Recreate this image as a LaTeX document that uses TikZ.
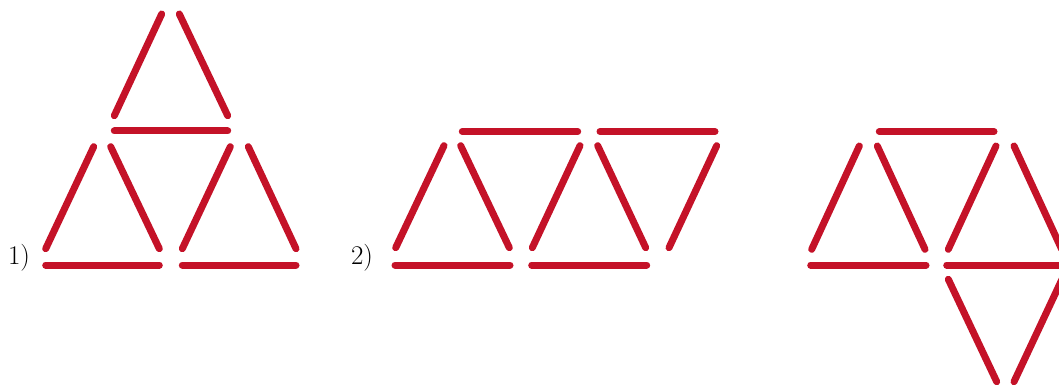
\documentclass[tikz,border=0pt]{standalone}
\definecolor{match}{RGB}{196,18,40}
\begin{document}
\begin{tikzpicture}[x=1pt,y=-1pt,
  stick/.style={draw=match,line width=7pt,line cap=round},
  lbl/.style={anchor=base,inner sep=0pt,font=\fontsize{27}{30}\selectfont}]
\useasboundingbox (0,0) rectangle (1059,387);
\clip (0,0) rectangle (1059,387);
% figure 1
\node[lbl] (l1) at (19,265) {1)};
\coordinate (a1) at (114.3,115.7); \coordinate (a2) at (161.7,14);
\coordinate (a3) at (179.3,14); \coordinate (a4) at (227.7,115.7);
\draw[stick] (a1) -- (a2); \draw[stick] (a3) -- (a4);
\coordinate (h1) at (114.3,131); \coordinate (h2) at (227.7,131);
\draw[stick] (h1) -- (h2);
\coordinate (b1) at (45.7,248.7); \coordinate (b2) at (93.7,146.7);
\coordinate (b3) at (110.7,146.7); \coordinate (b4) at (159.3,248.7);
\coordinate (b5) at (182.3,248.7); \coordinate (b6) at (230.3,146.7);
\coordinate (b7) at (248.3,146.7); \coordinate (b8) at (296,248.7);
\draw[stick] (b1) -- (b2); \draw[stick] (b3) -- (b4);
\draw[stick] (b5) -- (b6); \draw[stick] (b7) -- (b8);
\coordinate (g1) at (45.7,265); \coordinate (g2) at (159.3,265);
\coordinate (g3) at (182.3,265); \coordinate (g4) at (296,265);
\draw[stick] (g1) -- (g2); \draw[stick] (g3) -- (g4);
% figure 2
\node[lbl] (l2) at (362,265) {2)};
\coordinate (t1) at (462.3,131.5); \coordinate (t2) at (577.7,131.5);
\coordinate (t3) at (600,131.5); \coordinate (t4) at (715,131.5);
\draw[stick] (t1) -- (t2); \draw[stick] (t3) -- (t4);
\coordinate (s1) at (395.7,247.7); \coordinate (s2) at (444,145.7);
\coordinate (s3) at (460.7,145.7); \coordinate (s4) at (509.3,247.7);
\coordinate (s5) at (532.3,247.7); \coordinate (s6) at (580,145.7);
\coordinate (s7) at (597.7,145.7); \coordinate (s8) at (645.7,247.7);
\coordinate (s9) at (669,247.7); \coordinate (s10) at (716.7,145.7);
\draw[stick] (s1) -- (s2); \draw[stick] (s3) -- (s4);
\draw[stick] (s5) -- (s6); \draw[stick] (s7) -- (s8);
\draw[stick] (s9) -- (s10);
\coordinate (u1) at (395,265); \coordinate (u2) at (510,265);
\coordinate (u3) at (531.7,265); \coordinate (u4) at (646.7,265);
\draw[stick] (u1) -- (u2); \draw[stick] (u3) -- (u4);
% figure 3
\coordinate (p1) at (879.3,131.5); \coordinate (p2) at (994,131.5);
\draw[stick] (p1) -- (p2);
\coordinate (q1) at (811.7,249.3); \coordinate (q2) at (859.3,146);
\coordinate (q3) at (877.3,146); \coordinate (q4) at (925,249.3);
\coordinate (q5) at (948.3,249.3); \coordinate (q6) at (996,146);
\coordinate (q7) at (1014,146); \coordinate (q8) at (1061.7,249.3);
\draw[stick] (q1) -- (q2); \draw[stick] (q3) -- (q4);
\draw[stick] (q5) -- (q6); \draw[stick] (q7) -- (q8);
\coordinate (r1) at (810.7,265); \coordinate (r2) at (926,265);
\coordinate (r3) at (946.7,265); \coordinate (r4) at (1061.5,265);
\draw[stick] (r1) -- (r2); \draw[stick] (r3) -- (r4);
\coordinate (v1) at (948.3,279.3); \coordinate (v2) at (996.7,381.7);
\coordinate (v3) at (1014,381.7); \coordinate (v4) at (1062,279.3);
\draw[stick] (v1) -- (v2); \draw[stick] (v3) -- (v4);
\end{tikzpicture}
\end{document}
